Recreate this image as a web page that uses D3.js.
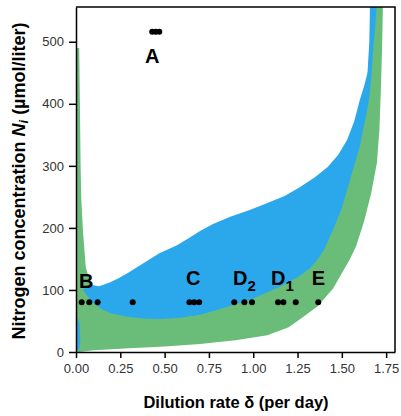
<!DOCTYPE html>
<html>
<head>
<meta charset="utf-8">
<script src="https://cdn.jsdelivr.net/npm/d3@7"></script>
<style>
  body { margin: 0; background: #fff; }
  text { font-family: "Liberation Sans", Arial, sans-serif; }
</style>
</head>
<body>
<div id="container"></div>
<script>
// region boundaries: [dilution rate, N]
const greenRegion = [
  [0, 0], [0, 490], [0.018, 490], [0.022, 400], [0.026, 300], [0.03, 245],
  [0.04, 192], [0.055, 137], [0.08, 111], [0.1, 95], [0.2, 90], [0.3, 95],
  [0.6, 110], [1.0, 150], [1.3, 210], [1.5, 290], [1.6, 370], [1.63, 410],
  [1.65, 460], [1.665, 530], [1.68, 575],
  [1.733, 575], [1.728, 500], [1.72, 420], [1.712, 358], [1.698, 305],
  [1.665, 255], [1.625, 210], [1.58, 170], [1.546, 150], [1.45, 102],
  [1.36, 73], [1.26, 52], [1.2, 40], [1.08, 27], [0.9, 19], [0.7, 13],
  [0.5, 9], [0.3, 6], [0.1, 3], [0.02, 0]
];

const blueRegion = [
  [0.04, 100], [0.06, 106], [0.09, 108], [0.13, 106], [0.19, 112], [0.24, 119],
  [0.29, 127], [0.38, 143], [0.47, 159], [0.57, 172], [0.64, 184], [0.7, 195],
  [0.77, 206], [0.87, 218], [0.98, 229], [1.08, 240], [1.18, 252], [1.26, 265],
  [1.35, 282], [1.42, 298], [1.48, 318], [1.53, 342], [1.57, 372], [1.6, 405],
  [1.625, 428], [1.645, 450], [1.655, 500], [1.66, 575],
  [1.7, 575], [1.69, 530], [1.675, 480], [1.665, 440], [1.655, 410],
  [1.64, 385], [1.62, 358], [1.6, 330], [1.546, 277], [1.5, 232], [1.45, 197],
  [1.4, 165], [1.36, 148], [1.32, 135], [1.26, 122], [1.15, 105], [1.07, 95],
  [0.98, 84], [0.9, 77], [0.8, 68], [0.7, 60], [0.59, 55], [0.47, 53],
  [0.38, 54], [0.29, 57], [0.2, 62], [0.15, 68], [0.1, 78], [0.06, 92]
];

const blueSliver = [
  [0, 8], [0, 52], [0.01, 55], [0.02, 45], [0.024, 20], [0.02, 5], [0.01, 3]
];

// strain observations (per day, µmol/liter)
const dotsDelta = [0.43, 0.45, 0.47, 0.032, 0.075, 0.122, 0.32, 0.64, 0.667, 0.695,
  0.893, 0.95, 0.993, 1.14, 1.17, 1.24, 1.367];
const dotsN = [516, 516, 516, 80, 80, 80, 80, 80, 80, 80, 80, 80, 80, 80, 80, 80, 80];

const labelText = ["A", "B", "C", "D", "D", "E"];
const labelSub = ["", "", "", "2", "1", ""];
const labelDelta = [0.39, 0.017, 0.62, 0.886, 1.1, 1.33];
const labelN = [466, 103, 108, 108, 108, 108];

const xTicks = [0, 0.25, 0.5, 0.75, 1, 1.25, 1.5, 1.75];
const yTicks = [0, 100, 200, 300, 400, 500];

const width = 401, height = 416;
const x = d3.scaleLinear().domain([0, 1.8]).range([76, 395]);
const y = d3.scaleLinear().domain([0, 556]).range([352, 7]);

const svg = d3.select("#container").append("svg")
  .attr("width", width).attr("height", height);

svg.append("defs").append("clipPath").attr("id", "plot")
  .append("rect").attr("x", 76).attr("y", 7).attr("width", 319).attr("height", 345);

const shape = d3.line().x(d => x(d[0])).y(d => y(d[1])).curve(d3.curveLinearClosed);

const regions = svg.append("g").attr("clip-path", "url(#plot)");
regions.append("path").attr("d", shape(greenRegion)).attr("fill", "#69bd78");
regions.append("path").attr("d", shape(blueRegion)).attr("fill", "#2ba8ec");
regions.append("path").attr("d", shape(blueSliver)).attr("fill", "#2ba8ec");

// frame
svg.append("path")
  .attr("d", `M${x(0)},${y(556)}H${x(1.8)}V${y(0)}`)
  .attr("fill", "none").attr("stroke", "#000").attr("stroke-width", 1.5);

const xAxis = svg.append("g").attr("transform", `translate(0,${y(0)})`)
  .call(d3.axisBottom(x).tickValues(xTicks).tickFormat(d3.format(".2f"))
    .tickSize(6).tickPadding(6).tickSizeOuter(0));
const yAxis = svg.append("g").attr("transform", `translate(${x(0)},0)`)
  .call(d3.axisLeft(y).tickValues(yTicks).tickSize(7).tickPadding(5).tickSizeOuter(0));

[xAxis, yAxis].forEach(g => {
  g.select(".domain").attr("stroke", "#000").attr("stroke-width", 1.5);
  g.selectAll(".tick line").attr("stroke", "#000").attr("stroke-width", 1.5);
  g.selectAll(".tick text").attr("fill", "#333").style("font-size", "13px")
    .style("font-family", "'Liberation Sans', Arial, sans-serif");
});

svg.append("g").selectAll("circle")
  .data(dotsDelta)
  .enter()
  .append("circle")
  .attr("cx", d => x(d))
  .attr("cy", (d, i) => y(dotsN[i]))
  .attr("r", 3)
  .attr("fill", "#000");

const lab = svg.append("g").selectAll("text")
  .data(labelText)
  .enter()
  .append("text")
  .attr("x", (d, i) => x(labelDelta[i]))
  .attr("y", (d, i) => y(labelN[i]))
  .attr("font-size", 20)
  .attr("font-weight", "bold")
  .attr("fill", "#000")
  .text(d => d);
lab.each(function (d, i) {
  if (labelSub[i]) {
    d3.select(this).append("tspan").attr("dy", 6).attr("font-size", 15).text(labelSub[i]);
  }
});

svg.append("text")
  .attr("x", 236).attr("y", 408)
  .attr("text-anchor", "middle")
  .attr("font-size", 16.5).attr("font-weight", "bold")
  .text("Dilution rate δ (per day)");

const yt = svg.append("text")
  .attr("transform", "translate(25,181) rotate(-90)")
  .attr("text-anchor", "middle")
  .attr("font-size", 18).attr("font-weight", "bold");
yt.append("tspan").text("Nitrogen concentration ");
yt.append("tspan").attr("font-style", "italic").text("N");
yt.append("tspan").attr("font-style", "italic").attr("font-size", 13).attr("dy", 3).text("i");
yt.append("tspan").attr("dy", -3).text(" (µmol/liter)");
</script>
</body>
</html>
